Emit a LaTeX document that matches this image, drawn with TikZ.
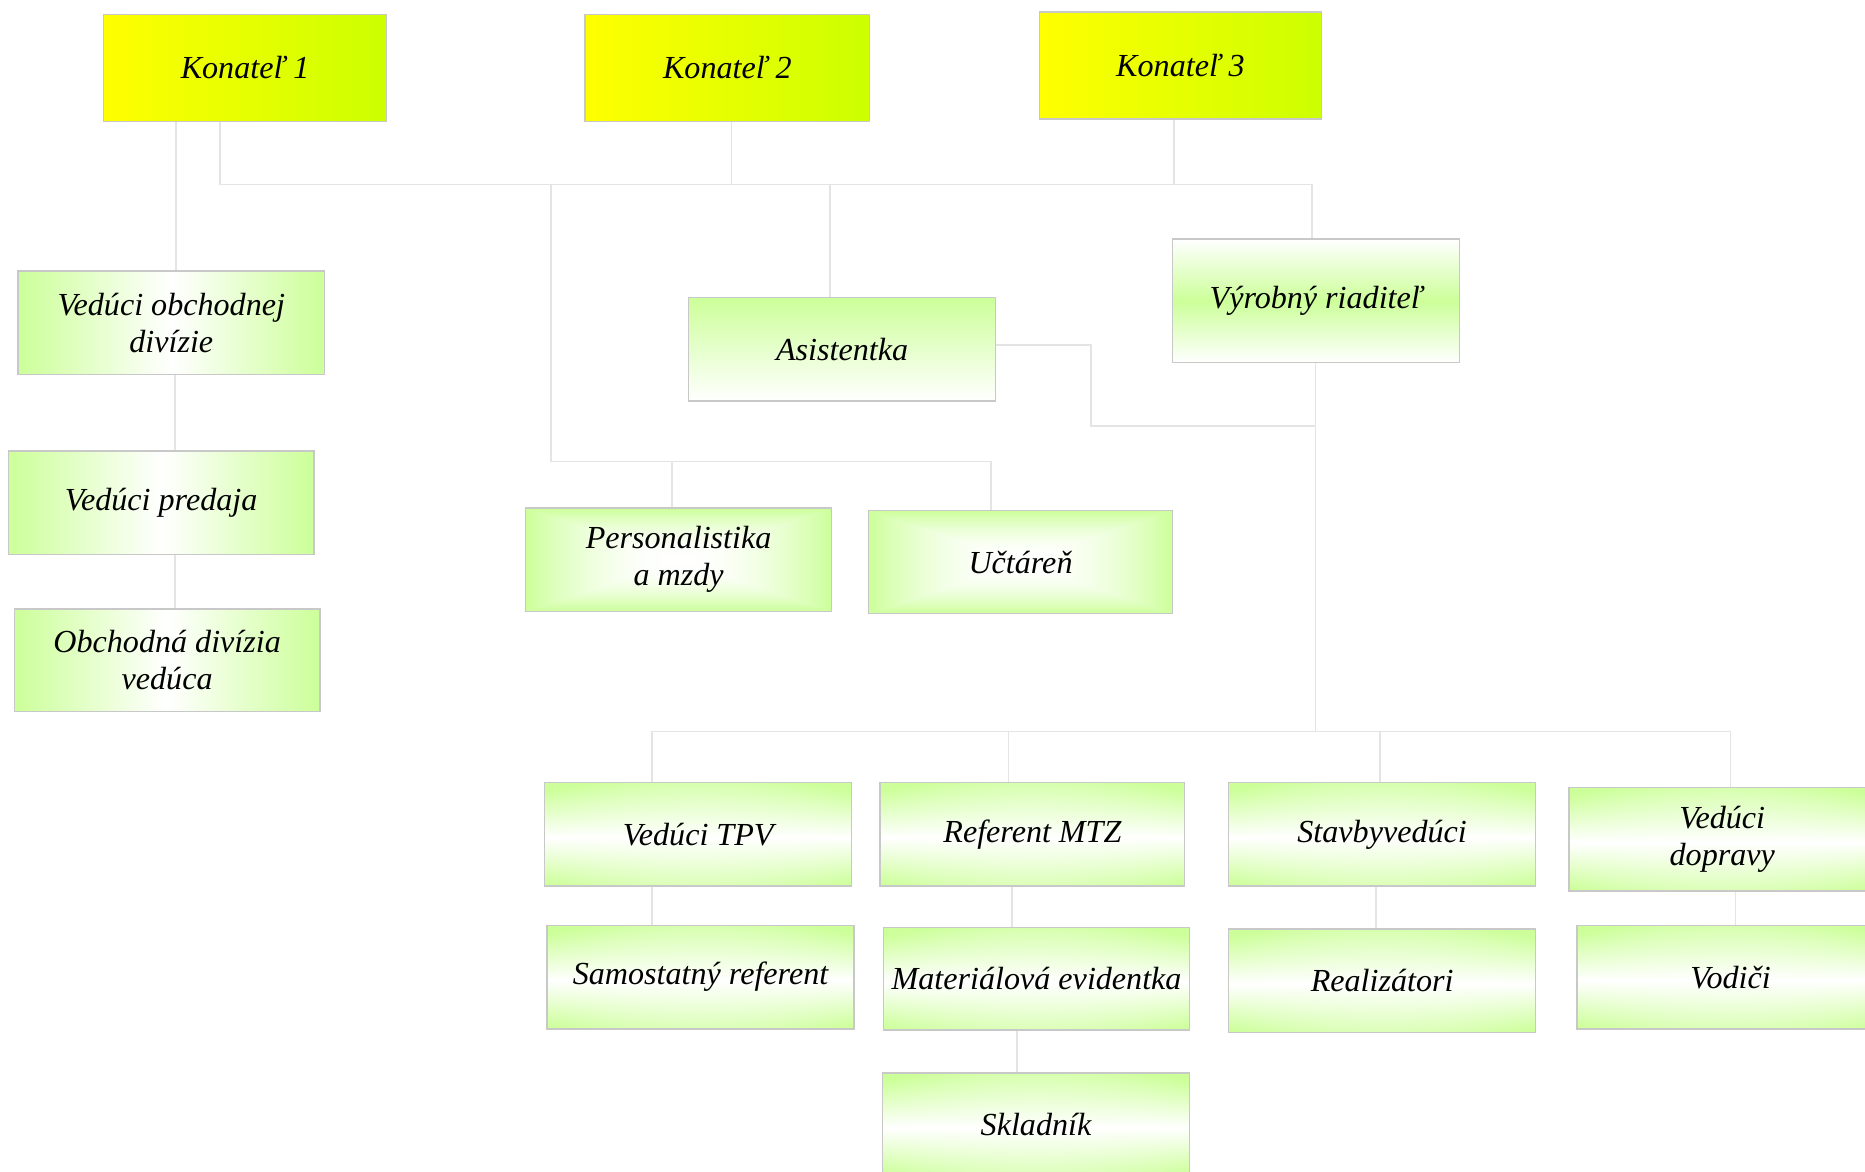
\documentclass[tikz,border=0pt]{standalone}
\usepackage{fontspec}
\setmainfont{Liberation Serif}
\definecolor{gr}{RGB}{204,255,153}
\definecolor{yl}{RGB}{255,255,0}
\definecolor{lm}{RGB}{204,255,0}
\definecolor{bd}{RGB}{200,200,200}
\definecolor{ln}{RGB}{228,228,228}
\pgfdeclarefunctionalshading{rectglow}{\pgfpoint{0bp}{0bp}}{\pgfpoint{100bp}{100bp}}{}{50 sub abs 25 div exch 50 sub abs 25 div 2 copy lt {exch} if pop dup 1 gt {pop 1} if dup mul dup 0.2 mul 1 exch sub exch 1 exch 0.4 mul 1 exch sub}
\pgfdeclarefunctionalshading{bandglow}{\pgfpoint{0bp}{0bp}}{\pgfpoint{100bp}{100bp}}{}{48.5 sub abs 25 div exch 50 sub 25 div dup mul 0.35 mul 0.75 add mul dup 1 gt {pop 1} if dup 0.2 mul 1 exch sub exch 1 exch 0.4 mul 1 exch sub}
\tikzset{
  card/.style={draw=bd, line width=0.6pt, inner sep=0pt, align=center,
    font=\fontsize{13.5}{15.5}\selectfont\itshape, text=black},
  sz/.style 2 args={minimum width=#1*0.5pt, minimum height=#2*0.5pt},
  ybox/.style={card, left color=yl, right color=lm},
  hbox/.style={card, left color=gr, right color=gr, middle color=white},
  vbox/.style={card, shading=bandglow},
  abox/.style={card, top color=gr, bottom color=white},
  rbox/.style={card, top color=white, bottom color=white, middle color=gr},
  cbox/.style={card, shading=rectglow},
  conn/.style={draw=ln, line width=0.7pt}
}
\begin{document}
\begin{tikzpicture}[x=0.5pt,y=-0.5pt]
\useasboundingbox (0,0) rectangle (1568,985);
\clip (0,0) rectangle (1568,985);
% coordinates for connector routes
\coordinate (c148) at (148,0);
\coordinate (c185) at (185,155);
\coordinate (bR) at (1103,155);
\coordinate (c615) at (615,155);
\coordinate (c987) at (987,155);
\coordinate (c463) at (463,155);
\coordinate (c698) at (698,155);
\coordinate (c565) at (565,388);
\coordinate (c833) at (833,388);
\coordinate (c290) at (0,290);
\coordinate (c917) at (917,358);
\coordinate (c1106) at (1106,358);
\coordinate (c1106b) at (1106,615);
\coordinate (c548) at (548,615);
\coordinate (c848) at (848,615);
\coordinate (c1160) at (1160,615);
\coordinate (c1455) at (1455,615);
\coordinate (c147) at (147,0);
\coordinate (c851) at (851,0);
\coordinate (c855) at (855,0);
\coordinate (c1157) at (1157,0);
\coordinate (c1459) at (1459,0);

% nodes
\node[ybox, sz={238}{90}] (K1) at (206,57) {Konateľ 1};
\node[ybox, sz={239}{90}] (K2) at (611.5,57) {Konateľ 2};
\node[ybox, sz={237}{90}] (K3) at (992.5,55) {Konateľ 3};
\node[hbox, sz={258}{87}] (VOD) at (144,271.5) {Vedúci obchodnej\\divízie};
\node[hbox, sz={257}{87}] (VP) at (135.5,422.5) {Vedúci predaja};
\node[hbox, sz={257}{86}] (OD) at (140.5,555) {Obchodná divízia\\vedúca};
\node[abox, sz={258}{87}] (AS) at (708,293.5) {Asistentka};
\node[rbox, sz={241}{104}] (VR) at (1106.5,253) {Výrobný riaditeľ};
\node[cbox, sz={257}{87}] (PM) at (570.5,470.5) {Personalistika\\a mzdy};
\node[cbox, sz={256}{87}] (UC) at (858,472.5) {Učtáreň};
\node[vbox, sz={258}{87}] (TPV) at (587,701.5) {Vedúci TPV};
\node[vbox, sz={256}{87}] (MTZ) at (868,701.5) {Referent MTZ};
\node[vbox, sz={258}{87}] (SV) at (1162,701.5) {Stavbyvedúci};
\node[vbox, sz={258}{87}] (VD) at (1448,705.5) {Vedúci\\dopravy};
\node[vbox, sz={258}{87}] (SR) at (589,821.5) {Samostatný referent};
\node[vbox, sz={257}{86}] (ME) at (871.5,823) {Materiálová evidentka};
\node[vbox, sz={258}{87}] (RE) at (1162,824.5) {Realizátori};
\node[vbox, sz={258}{87}] (VO) at (1455,821.5) {Vodiči};
\node[vbox, sz={258}{87}] (SK) at (871,945.5) {Skladník};

% connectors
\draw[conn] (K1.south -| c148) -- (VOD.north -| c148);
\draw[conn] (K1.south -| c185) -- (c185) -- (bR) -- (VR.north -| bR);
\draw[conn] (K2.south -| c615) -- (c615);
\draw[conn] (K3.south -| c987) -- (c987);
\draw[conn] (c463) |- (c833) -- (UC.north -| c833);
\draw[conn] (c565) -- (PM.north -| c565);
\draw[conn] (c698) -- (AS.north -| c698);
\draw[conn] (AS.east |- c290) -| (c917) -- (c1106);
\draw[conn] (VR.south -| c1106) -- (c1106b);
\draw[conn] (c548) -- (c1455);
\draw[conn] (c548) -- (TPV.north -| c548);
\draw[conn] (c848) -- (MTZ.north -| c848);
\draw[conn] (c1160) -- (SV.north -| c1160);
\draw[conn] (c1455) -- (VD.north -| c1455);
\draw[conn] (VOD.south -| c147) -- (VP.north -| c147);
\draw[conn] (VP.south -| c147) -- (OD.north -| c147);
\draw[conn] (TPV.south -| c548) -- (SR.north -| c548);
\draw[conn] (MTZ.south -| c851) -- (ME.north -| c851);
\draw[conn] (ME.south -| c855) -- (SK.north -| c855);
\draw[conn] (SV.south -| c1157) -- (RE.north -| c1157);
\draw[conn] (VD.south -| c1459) -- (VO.north -| c1459);
\end{tikzpicture}
\end{document}
